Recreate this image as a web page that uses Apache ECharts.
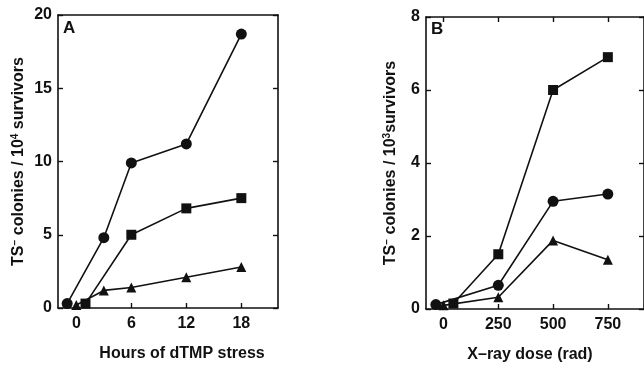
<!DOCTYPE html>
<html>
<head>
<meta charset="utf-8">
<script src="https://cdn.jsdelivr.net/npm/echarts@6/dist/echarts.min.js"></script>
<style>
  html, body { margin: 0; padding: 0; background: #fff; }
  #chart { width: 644px; height: 368px; }
</style>
</head>
<body>
<div id="chart"></div>
<script>
// panel A: hours of dTMP stress
const hoursTicks = [0, 6, 12, 18];
const aCircle = [[-1, 0.3], [3, 4.8], [6, 9.9], [12, 11.2], [18, 18.7]];
const aSquare = [[1, 0.3], [6, 5.0], [12, 6.8], [18, 7.5]];
const aTriangle = [[0, 0.2], [3, 1.2], [6, 1.4], [12, 2.1], [18, 2.8]];

// panel B: X-ray dose
const doseTicks = [0, 250, 500, 750];
const bSquare = [[45, 0.15], [250, 1.5], [500, 6.0], [750, 6.9]];
const bCircle = [[-35, 0.12], [250, 0.65], [500, 2.95], [750, 3.15]];
const bTriangle = [[0, 0.1], [250, 0.32], [500, 1.88], [750, 1.35]];

const font = "Liberation Sans";
const black = "#111";

const chart = echarts.init(document.getElementById("chart"));

function lineSeries(x, y, data, symbol, size) {
  return {
    type: "line",
    xAxisIndex: x,
    yAxisIndex: y,
    data: data,
    symbol: symbol,
    symbolSize: size,
    itemStyle: { color: black },
    lineStyle: { color: black, width: 1.6 },
    animation: false,
  };
}

const frame = { show: true, onZero: false, lineStyle: { color: black, width: 1.6 } };
const tickIn = { show: true, inside: true, length: 5, lineStyle: { color: black, width: 1.4 } };
const labelStyle = { color: black, fontFamily: font, fontSize: 16, fontWeight: "bold" };
const nameStyle = {
  color: black, fontFamily: font, fontSize: 16, fontWeight: "bold",
  rich: { sup: { fontSize: 10, fontWeight: "bold", fontFamily: font, color: black, verticalAlign: "top", padding: [0, 0, 8, 0] } },
};

chart.setOption({
  backgroundColor: "#fff",
  grid: [
    { left: 58, top: 15, width: 220, height: 293 },
    { left: 426, top: 17, width: 220, height: 292 },
  ],
  xAxis: [
    {
      gridIndex: 0, type: "value", min: -2, max: 22,
      axisLine: frame, splitLine: { show: false },
      axisTick: Object.assign({ customValues: hoursTicks }, tickIn),
      axisLabel: Object.assign({ customValues: hoursTicks, margin: 8 }, labelStyle),
      name: "Hours of dTMP stress", nameLocation: "middle", nameGap: 38,
      nameTextStyle: Object.assign({}, nameStyle, { padding: [0, 0, 0, 28] }),
    },
    {
      gridIndex: 0, type: "value", min: -2, max: 22, position: "top",
      axisLine: frame, splitLine: { show: false },
      axisTick: { show: false }, axisLabel: { show: false },
    },
    {
      gridIndex: 1, type: "value", min: -80, max: 915,
      axisLine: frame, splitLine: { show: false },
      axisTick: Object.assign({ customValues: doseTicks }, tickIn),
      axisLabel: Object.assign({ customValues: doseTicks, margin: 8 }, labelStyle),
      name: "X\u2013ray dose (rad)", nameLocation: "middle", nameGap: 38,
      nameTextStyle: Object.assign({}, nameStyle, { padding: [0, 10, 0, 0] }),
    },
    {
      gridIndex: 1, type: "value", min: -80, max: 915, position: "top",
      axisLine: frame, splitLine: { show: false },
      axisTick: Object.assign({ customValues: doseTicks }, tickIn),
      axisLabel: { show: false },
    },
  ],
  yAxis: [
    {
      gridIndex: 0, type: "value", min: 0, max: 20, interval: 5,
      axisLine: frame, splitLine: { show: false },
      axisTick: tickIn,
      axisLabel: Object.assign({ margin: 6 }, labelStyle),
      name: "TS{sup|\u2212} colonies / 10{sup|4} survivors", nameLocation: "middle", nameGap: 30,
      nameTextStyle: nameStyle,
    },
    {
      gridIndex: 0, type: "value", min: 0, max: 20, interval: 5, position: "right",
      axisLine: frame, splitLine: { show: false },
      axisTick: tickIn, axisLabel: { show: false },
    },
    {
      gridIndex: 1, type: "value", min: 0, max: 8, interval: 2,
      axisLine: frame, splitLine: { show: false },
      axisTick: tickIn,
      axisLabel: Object.assign({ margin: 6 }, labelStyle),
      name: "TS{sup|\u2212} colonies / 10{sup|3}survivors", nameLocation: "middle", nameGap: 26,
      nameTextStyle: nameStyle,
    },
    {
      gridIndex: 1, type: "value", min: 0, max: 8, interval: 2, position: "right",
      axisLine: frame, splitLine: { show: false },
      axisTick: tickIn, axisLabel: { show: false },
    },
  ],
  graphic: [
    { type: "text", left: 63, top: 20, style: { text: "A", fill: black, font: "bold 17px " + font } },
    { type: "text", left: 431, top: 21, style: { text: "B", fill: black, font: "bold 17px " + font } },
  ],
  series: [
    lineSeries(0, 0, aCircle, "circle", 11),
    lineSeries(0, 0, aSquare, "rect", 10),
    lineSeries(0, 0, aTriangle, "triangle", 10),
    lineSeries(2, 2, bSquare, "rect", 10),
    lineSeries(2, 2, bCircle, "circle", 11),
    lineSeries(2, 2, bTriangle, "triangle", 10),
  ],
});
</script>
</body>
</html>
